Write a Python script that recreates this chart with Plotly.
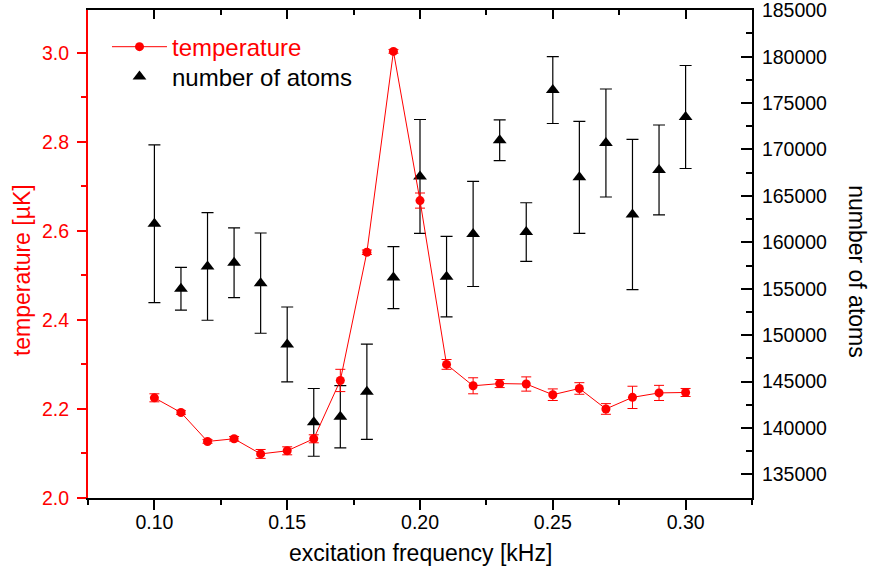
import plotly.graph_objects as go

freq = [0.10, 0.11, 0.12, 0.13, 0.14, 0.15, 0.16, 0.17, 0.18, 0.19, 0.20,
        0.21, 0.22, 0.23, 0.24, 0.25, 0.26, 0.27, 0.28, 0.29, 0.30]
temperature = [2.225, 2.192, 2.127, 2.133, 2.099, 2.106, 2.133, 2.264, 2.552, 3.003, 2.668,
               2.300, 2.252, 2.257, 2.256, 2.232, 2.246, 2.200, 2.226, 2.236, 2.237]
temperature_err = [0.009, 0.004, 0.004, 0.005, 0.010, 0.009, 0.009, 0.025, 0.005, 0.004, 0.017,
                   0.011, 0.018, 0.009, 0.016, 0.013, 0.013, 0.012, 0.025, 0.017, 0.009]
atoms = [162000, 155000, 157400, 157800, 155600, 149000, 140600, 141200, 143900, 156200, 167100,
         156300, 160900, 171000, 161100, 176400, 167000, 170700, 163000, 167800, 173500]
atoms_err = [8500, 2300, 5800, 3750, 5400, 4030, 3650, 3360, 5140, 3340, 6130,
             4330, 5660, 2200, 3160, 3600, 6040, 5820, 8100, 4840, 5550]

FONT = "Arial, 'Liberation Sans', sans-serif"
RED = "#ff0000"
TICKSIZE = 19.5

fig = go.Figure()

# number of atoms (primary y, right side)
fig.add_trace(go.Scatter(
    x=freq, y=atoms, mode="markers", name="number of atoms",
    marker=dict(symbol="triangle-up", size=12, color="black"),
    error_y=dict(type="data", array=atoms_err, color="black", thickness=1.2, width=6),
    yaxis="y", xaxis="x", legend="legend2",
))
# invisible helper for top tick axis
fig.add_trace(go.Scatter(
    x=freq, y=atoms, mode="markers", marker=dict(opacity=0), showlegend=False,
    hoverinfo="skip", xaxis="x2", yaxis="y",
))
# temperature (overlay y, left side, drawn on top)
fig.add_trace(go.Scatter(
    x=freq, y=temperature, mode="lines+markers",
    name="<span style='color:#ff0000'>temperature</span>",
    line=dict(color=RED, width=1),
    marker=dict(symbol="circle", size=9, color=RED),
    error_y=dict(type="data", array=temperature_err, color=RED, thickness=1, width=5),
    yaxis="y2", xaxis="x", legend="legend",
))

legend_common = dict(xanchor="left", yanchor="middle", bgcolor="rgba(0,0,0,0)",
                     borderwidth=0, itemwidth=55,
                     font=dict(family=FONT, size=24, color="black"))

fig.update_layout(
    width=869, height=580,
    margin=dict(l=88, r=117, t=10, b=82, autoexpand=False),
    paper_bgcolor="white", plot_bgcolor="white",
    font=dict(family=FONT, size=TICKSIZE, color="black"),
    showlegend=True,
    legend=dict(x=0.0286, y=0.924, **legend_common),
    legend2=dict(x=0.0286, y=0.8627, **legend_common),
    xaxis=dict(range=[0.075, 0.325], dtick=0.05, tick0=0.1, tickformat=".2f",
               automargin=False,
               showgrid=False, zeroline=False, showline=True, linecolor="black",
               linewidth=2, mirror=True, ticks="outside", ticklen=10, tickwidth=2,
               tickcolor="black", ticklabelstandoff=-4,
               minor=dict(dtick=0.025, tick0=0.075, ticks="outside", ticklen=5,
                          tickwidth=2, tickcolor="black", showgrid=False)),
    xaxis2=dict(range=[0.075, 0.325], dtick=0.05, tick0=0.1, overlaying="x", side="top",
                automargin=False,
                showgrid=False, zeroline=False, showline=False, showticklabels=False,
                ticks="inside", ticklen=9, tickwidth=1.5, tickcolor="black",
                minor=dict(dtick=0.025, tick0=0.075, ticks="inside", ticklen=5,
                           tickwidth=1.5, tickcolor="black", showgrid=False)),
    yaxis=dict(range=[132450, 185030], dtick=5000, tick0=135000, side="right",
               automargin=False, ticklabeloverflow="allow",
               showgrid=False, zeroline=False, showline=True, linecolor="black",
               linewidth=2, ticks="inside", ticklen=11, tickwidth=2, tickcolor="black",
               tickformat="d", ticklabelstandoff=4,
               minor=dict(dtick=2500, ticks="inside", ticklen=6, tickwidth=2,
                          tickcolor="black", showgrid=False)),
    yaxis2=dict(range=[2.0, 3.096], dtick=0.2, tick0=2.0, side="left", overlaying="y",
                automargin=False,
                showgrid=False, zeroline=False, showline=True, linecolor=RED,
                linewidth=2, ticks="outside", ticklen=9, tickwidth=2, tickcolor=RED,
                tickformat=".1f", tickfont=dict(color=RED), ticklabelstandoff=4,
                minor=dict(dtick=0.1, ticks="outside", ticklen=5, tickwidth=2,
                           tickcolor=RED, showgrid=False)),
    annotations=[
        dict(text="excitation frequency [kHz]", x=0.5, y=-0.1127, xref="paper", yref="paper",
             showarrow=False, xanchor="center", yanchor="middle",
             font=dict(family=FONT, size=23, color="black")),
        dict(text="temperature [µK]", x=-0.0994, y=0.467, xref="paper", yref="paper",
             showarrow=False, xanchor="center", yanchor="middle", textangle=-90,
             font=dict(family=FONT, size=23, color=RED)),
        dict(text="number of atoms", x=1.158, y=0.463, xref="paper", yref="paper",
             showarrow=False, xanchor="center", yanchor="middle", textangle=90,
             font=dict(family=FONT, size=23, color="black")),
    ],
)

# remove the browser's default 8px page margin so the figure sits at the window origin
fig.write_html("out.html", config={"displayModeBar": False},
               post_script="document.body.style.margin='0';")
